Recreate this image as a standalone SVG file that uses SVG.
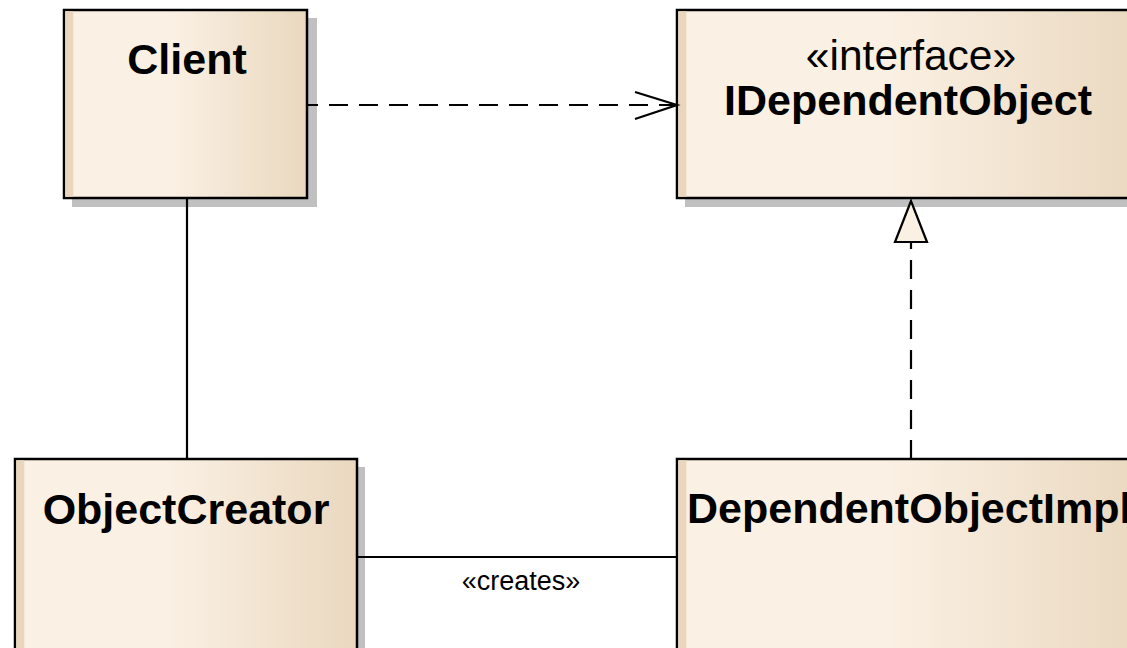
<svg xmlns="http://www.w3.org/2000/svg" width="1127" height="648" viewBox="0 0 1127 648">
  <defs>
    <linearGradient id="classFill" x1="0" y1="0" x2="1" y2="0">
      <stop offset="0" stop-color="#FAF0E3"/>
      <stop offset="0.45" stop-color="#FAF0E3"/>
      <stop offset="1" stop-color="#EAD8BF"/>
    </linearGradient>
    <style>
      .shadow { fill: #C0C0C0; }
      .box { fill: url(#classFill); stroke: #000; stroke-width: 2.5; }
      .strip { fill: #E9D6BC; }
      .name { font-family: "Liberation Sans", Arial, sans-serif; font-size: 43px; font-weight: bold; fill: #000; }
      .stereo { font-family: "Liberation Sans", Arial, sans-serif; font-size: 42.5px; fill: #000; }
      .label { font-family: "Liberation Sans", Arial, sans-serif; font-size: 27px; fill: #000; }
      .line { fill: none; stroke: #000; stroke-width: 2.2; }
      .dashed { stroke-dasharray: 19 11; }
    </style>
  </defs>
  <rect width="1127" height="648" fill="#FFFFFF"/>

  <!-- Client class -->
  <g id="client">
    <rect class="shadow" x="72" y="18" width="245" height="189"/>
    <rect class="box" x="64" y="10" width="243" height="188"/>
    <rect class="strip" x="65.3" y="11.3" width="8" height="185.4"/>
    <text class="name" x="187" y="74" text-anchor="middle">Client</text>
  </g>

  <!-- IDependentObject interface -->
  <g id="idependentobject">
    <rect class="shadow" x="685" y="18" width="470" height="189"/>
    <rect class="box" x="677" y="10" width="470" height="188"/>
    <rect class="strip" x="678.3" y="11.3" width="8" height="185.4"/>
    <text class="stereo" x="911" y="70" text-anchor="middle">«interface»</text>
    <text class="name" x="908" y="115" text-anchor="middle">IDependentObject</text>
  </g>

  <!-- ObjectCreator class -->
  <g id="objectcreator">
    <rect class="shadow" x="23" y="467" width="342" height="200"/>
    <rect class="box" x="15" y="459" width="342" height="200"/>
    <rect class="strip" x="16.3" y="460.3" width="8" height="198"/>
    <text class="name" x="186" y="524" text-anchor="middle">ObjectCreator</text>
  </g>

  <!-- DependentObjectImpl class -->
  <g id="dependentobjectimpl">
    <rect class="shadow" x="685" y="467" width="470" height="200"/>
    <rect class="box" x="677" y="459" width="470" height="200"/>
    <rect class="strip" x="678.3" y="460.3" width="8" height="198"/>
    <text class="name" x="687" y="523">DependentObjectImpl</text>
  </g>

  <!-- Connectors -->
  <g id="connectors">
    <!-- dependency: Client uses IDependentObject -->
    <line class="line dashed" x1="307" y1="105" x2="677" y2="105" stroke-dashoffset="8"/>
    <polyline class="line" points="635,92 677,105 635,119"/>

    <!-- association: Client to ObjectCreator -->
    <line class="line" x1="187" y1="198" x2="187" y2="459"/>

    <!-- creates: ObjectCreator to DependentObjectImpl -->
    <line class="line" x1="357" y1="557" x2="677" y2="557"/>
    <text class="label" x="521" y="590" text-anchor="middle">«creates»</text>

    <!-- realization: DependentObjectImpl implements IDependentObject -->
    <line class="line dashed" x1="911" y1="459" x2="911" y2="242"/>
    <polygon points="911,201 895,242 927,242" fill="#FAF0E3" stroke="#000" stroke-width="2.2" stroke-linejoin="miter"/>
  </g>
</svg>
